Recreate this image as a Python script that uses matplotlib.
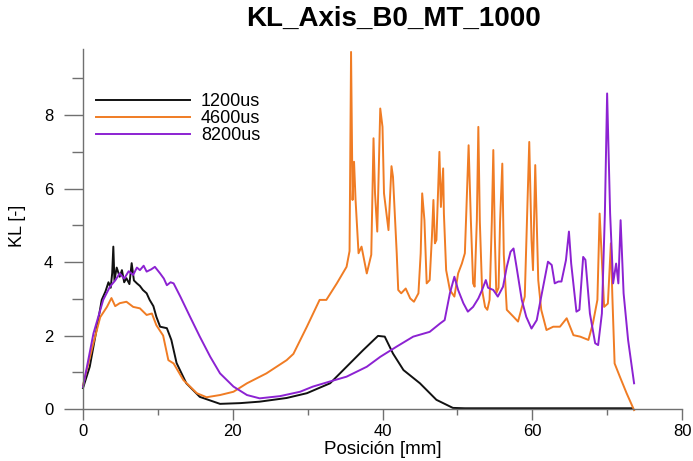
import numpy as np
import matplotlib
matplotlib.use('Agg')
import matplotlib.pyplot as plt
from matplotlib.ticker import MultipleLocator

plt.rcParams['font.family'] = ['Liberation Sans', 'DejaVu Sans']

# (posicion [mm], KL)
black_pts = [(0, 0.57), (0.9, 1.15), (1.8, 2.15), (2.5, 2.97), (3.0, 3.2), (3.4, 3.45), (3.7, 3.3),
             (3.9, 3.7), (4.05, 4.42), (4.2, 3.5), (4.5, 3.85), (4.9, 3.6), (5.2, 3.78), (5.5, 3.45),
             (5.8, 3.56), (6.2, 3.4), (6.5, 3.97), (6.8, 3.5), (7.2, 3.42), (7.6, 3.35), (8.0, 3.24),
             (8.5, 3.15), (8.9, 2.97), (9.4, 2.8), (9.8, 2.51), (10.3, 2.24), (11.2, 2.2), (11.8, 1.88),
             (12.5, 1.25), (13.8, 0.7), (15.6, 0.33), (18.3, 0.14), (21, 0.16), (23.6, 0.2), (27.2, 0.3),
             (29.9, 0.43), (33, 0.7), (35.2, 1.15), (37.4, 1.6), (39.4, 1.99), (40.3, 1.97), (41.4, 1.51),
             (42.8, 1.06), (45, 0.7), (47.2, 0.25), (49.4, 0.03), (51, 0.02), (73.4, 0.02)]

orange_pts = [(0, 0.65), (1.4, 1.8), (2.3, 2.5), (3.2, 2.78), (3.8, 3.02), (4.3, 2.8), (4.9, 2.88),
              (5.8, 2.92), (6.7, 2.78), (7.6, 2.74), (8.5, 2.56), (9.2, 2.6), (9.8, 2.28), (10.7, 2.0),
              (11.4, 1.33), (12.1, 1.24), (13.4, 0.79), (15.2, 0.43), (16.5, 0.32), (18.3, 0.38),
              (20.1, 0.47), (21.9, 0.7), (24.5, 0.97), (27.2, 1.33), (28.1, 1.5), (29.9, 2.24),
              (31.6, 2.97), (32.5, 2.97), (33.9, 3.42), (35.2, 3.87), (35.6, 4.3), (35.8, 9.72),
              (36.0, 5.69), (36.2, 6.73), (36.4, 5.7), (36.8, 4.24), (37.2, 4.42), (37.9, 3.69),
              (38.5, 4.2), (38.8, 7.37), (39.0, 5.87), (39.3, 4.83), (39.7, 8.18), (40.0, 7.68),
              (40.2, 5.87), (40.8, 4.87), (41.2, 6.61), (41.4, 6.32), (41.9, 4.24), (42.1, 3.24),
              (42.5, 3.15), (43.1, 3.28), (43.7, 3.01), (44.2, 2.92), (44.8, 3.15), (45.1, 4.24),
              (45.3, 5.87), (45.6, 5.14), (45.9, 3.42), (46.3, 3.51), (46.6, 4.69), (46.8, 5.69),
              (47.0, 4.51), (47.2, 4.6), (47.6, 7.0), (47.8, 5.5), (48.1, 6.55), (48.2, 5.32),
              (48.5, 3.78), (49.0, 3.24), (49.6, 3.06), (50.1, 3.69), (50.6, 3.96), (51.0, 4.24),
              (51.2, 5.4), (51.5, 7.18), (51.8, 5.14), (52.1, 3.42), (52.3, 3.33), (52.6, 5.14),
              (52.8, 7.68), (53.0, 5.1), (53.3, 3.24), (53.7, 2.78), (54.0, 2.7), (54.3, 2.97),
              (54.6, 5.1), (54.8, 7.05), (55.0, 4.69), (55.2, 3.15), (55.5, 3.3), (55.7, 5.1),
              (56.0, 6.68), (56.2, 4.2), (56.6, 2.7), (57.5, 2.51), (58.1, 2.38), (59.0, 3.06),
              (59.6, 7.27), (59.9, 4.6), (60.1, 3.78), (60.4, 6.64), (60.8, 3.51), (61.2, 2.7),
              (61.9, 2.15), (62.8, 2.24), (63.7, 2.24), (64.6, 2.47), (65.5, 2.01), (66.4, 1.97),
              (67.5, 1.88), (68.1, 2.33), (68.7, 2.97), (69.0, 5.32), (69.6, 2.78), (70.1, 2.87),
              (70.5, 4.51), (70.7, 3.06), (71.0, 1.24), (71.7, 0.88), (72.6, 0.43), (73.6, -0.03)]

purple_pts = [(0, 0.6), (1.4, 2.06), (2.7, 2.97), (3.6, 3.33), (4.3, 3.5), (4.9, 3.69), (5.5, 3.55),
              (6.1, 3.75), (6.7, 3.65), (7.2, 3.85), (7.6, 3.78), (8.1, 3.9), (8.5, 3.74), (9.1, 3.8),
              (9.6, 3.87), (10.3, 3.69), (10.8, 3.55), (11.2, 3.37), (11.7, 3.45), (12.1, 3.42),
              (13.0, 3.06), (14.3, 2.51), (15.6, 1.97), (17.0, 1.42), (18.3, 0.97), (20.1, 0.61),
              (21.9, 0.38), (23.6, 0.29), (26.3, 0.35), (29.0, 0.47), (30.7, 0.61), (33, 0.75),
              (35.2, 0.88), (37.9, 1.15), (39.7, 1.42), (41.9, 1.7), (44.1, 1.97), (46.3, 2.1),
              (47.7, 2.33), (48.3, 2.42), (49.0, 3.15), (49.6, 3.6), (50.1, 3.24), (50.8, 2.88),
              (51.4, 2.65), (52.1, 2.78), (52.8, 3.01), (53.3, 3.24), (53.8, 3.51), (54.1, 3.3),
              (54.8, 3.24), (55.4, 3.06), (56.1, 3.33), (56.6, 3.87), (57.1, 4.28), (57.5, 4.37),
              (57.9, 3.87), (58.6, 2.97), (59.2, 2.51), (59.9, 2.19), (60.6, 2.42), (61.2, 3.06),
              (62.1, 4.01), (62.6, 3.92), (63.0, 3.42), (63.5, 3.47), (63.9, 3.47), (64.5, 4.05),
              (64.9, 4.83), (65.2, 3.96), (65.9, 2.65), (66.3, 2.7), (66.8, 4.14), (67.1, 4.06),
              (67.7, 2.6), (68.4, 1.79), (68.8, 1.74), (69.3, 2.6), (69.7, 5.32), (70.0, 8.59),
              (70.4, 5.32), (70.8, 3.42), (71.2, 3.96), (71.5, 3.42), (71.8, 5.14), (72.2, 3.15),
              (72.8, 1.88), (73.6, 0.7)]

series = [('1200us', black_pts, '#111111'),
          ('4600us', orange_pts, '#F07C24'),
          ('8200us', purple_pts, '#8C22D2')]

fig = plt.figure(figsize=(6.93, 4.61), dpi=100)
ax = fig.add_axes([83 / 693, 52 / 461, 599 / 693, 360 / 461])

for label, pts, color in series:
    xs, ys = zip(*pts)
    ax.plot(xs, ys, color=color, lw=1.4, label=label, clip_on=False)

ax.set_xlim(0, 80)
ax.set_ylim(0, 9.8)
ax.xaxis.set_major_locator(MultipleLocator(20))
ax.xaxis.set_minor_locator(MultipleLocator(10))
ax.yaxis.set_major_locator(MultipleLocator(2))
ax.yaxis.set_minor_locator(MultipleLocator(1))

for side in ['top', 'right']:
    ax.spines[side].set_visible(False)
for side in ['left', 'bottom']:
    ax.spines[side].set_color('#707070')
    ax.spines[side].set_linewidth(1.0)

ax.tick_params(axis='x', which='major', length=8, width=1, color='#707070', pad=3, labelsize=12)
ax.tick_params(axis='x', which='minor', length=4, width=1, color='#707070')
ax.tick_params(axis='y', which='major', length=13.5, width=1, color='#707070', pad=8, labelsize=12)
ax.tick_params(axis='y', which='minor', length=8, width=1, color='#707070')

ax.set_xlabel('Posición [mm]', fontsize=13.5)
ax.set_ylabel('KL [-]', fontsize=13)
ax.xaxis.set_label_coords(0.5, -0.089)
ax.yaxis.set_label_coords(-0.095, 0.51)

fig.text(393 / 693, 1 - 19 / 461, 'KL_Axis_B0_MT_1000', fontsize=20, fontweight='bold',
         ha='center', va='center')

ax.legend(loc='upper left', bbox_to_anchor=(0.022, 0.877), frameon=False, fontsize=13,
          handlelength=5.2, handletextpad=0.6, labelspacing=0.0, borderpad=0, borderaxespad=0)

fig.savefig('out.png', dpi=100)
